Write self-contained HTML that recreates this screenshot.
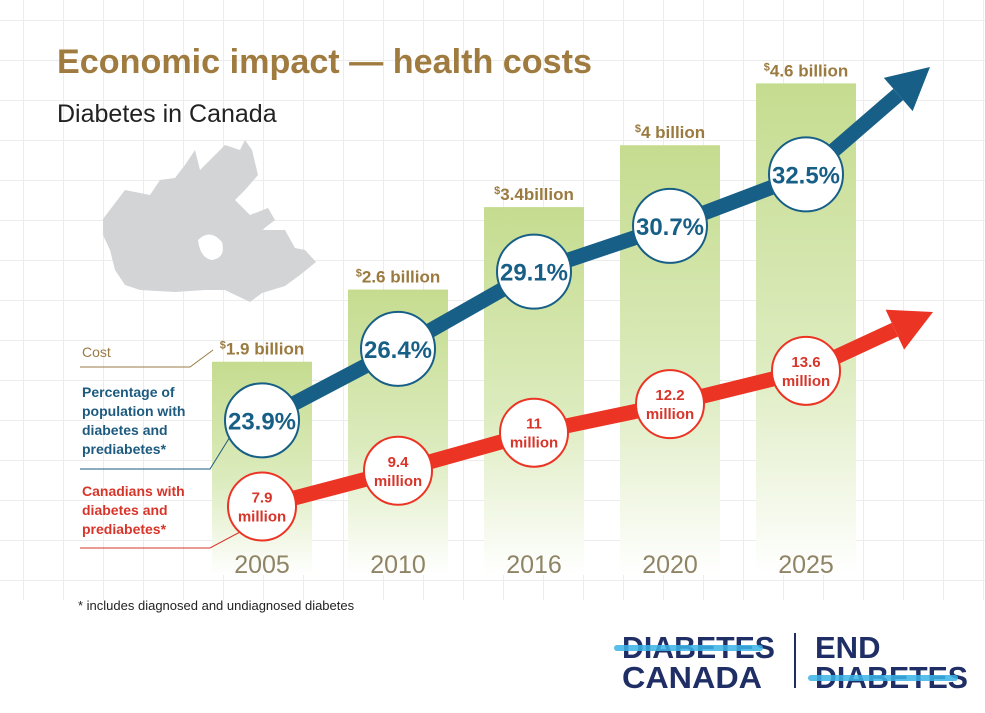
<!DOCTYPE html>
<html><head><meta charset="utf-8"><style>
html,body{margin:0;padding:0;background:#fff}
body{width:985px;height:713px;overflow:hidden;font-family:"Liberation Sans",sans-serif;position:relative}
.grid{position:absolute;left:0;top:0;width:985px;height:600px;
background-image:linear-gradient(to right,#ececec 1px,transparent 1px),linear-gradient(to bottom,#ececec 1px,transparent 1px);
background-size:40px 40px;background-position:23px 20px}
</style></head><body>
<div class="grid"></div>
<svg id="chart" width="985" height="713" style="position:absolute;left:0;top:0">
<defs>
<linearGradient id="barg" x1="0" y1="0" x2="0" y2="1">
<stop offset="0" stop-color="#c5dc8f"/><stop offset="0.55" stop-color="#dcebbd"/><stop offset="1" stop-color="#ffffff"/>
</linearGradient>
</defs>
<text x="57" y="73" font-size="34" font-weight="bold" fill="#a07b3f" textLength="535" lengthAdjust="spacingAndGlyphs">Economic impact — health costs</text>
<text x="57" y="122" font-size="25" fill="#222">Diabetes in Canada</text>
<path fill="#d3d4d6" d="M103,219 L125,190 L150,195 L160,180 L175,178 L185,165 L195,150 L200,170 L210,160 L225,145 L240,150 L245,140 L252,150 L258,175 L245,190 L235,200 L250,215 L268,208 L275,220 L262,230 L285,230 L295,248 L305,250 L316,262 L300,275 L285,286 L262,293 L250,302 L225,290 L205,290 L175,292 L140,290 L125,285 L115,270 L110,250 L103,235 Z"/>
<path fill="#ffffff" d="M198,240 Q210,228 222,242 Q226,258 212,260 Q200,258 198,240 Z"/>
<g id="bars"></g>
<g id="legend">
<text x="82" y="357" font-size="14" fill="#9a7a45">Cost</text>
<polyline points="80,367 190,367 213,350" fill="none" stroke="#9a7a45" stroke-width="1"/>
<text font-size="14" font-weight="bold" fill="#1d5a7f">
<tspan x="82" y="397">Percentage of</tspan><tspan x="82" y="416">population with</tspan><tspan x="82" y="435">diabetes and</tspan><tspan x="82" y="454">prediabetes*</tspan></text>
<polyline points="80,469 210,469 233,432" fill="none" stroke="#1d5a7f" stroke-width="1"/>
<text font-size="14" font-weight="bold" fill="#d8352a">
<tspan x="82" y="496">Canadians with</tspan><tspan x="82" y="515">diabetes and</tspan><tspan x="82" y="534">prediabetes*</tspan></text>
<polyline points="80,548 210,548 240,532" fill="none" stroke="#d8352a" stroke-width="1"/>
</g>
<g id="series"></g>
<text x="78" y="610" font-size="13" fill="#222">* includes diagnosed and undiagnosed diabetes</text>
<g>
<text x="622" y="658" font-size="31" font-weight="bold" fill="#1f2f66" textLength="153" lengthAdjust="spacingAndGlyphs">DIABETES</text>
<text x="622" y="688" font-size="31" font-weight="bold" fill="#1f2f66" textLength="140" lengthAdjust="spacingAndGlyphs">CANADA</text>
<line x1="617" y1="648" x2="760" y2="648" stroke="#3bb4e8" stroke-width="6" stroke-linecap="round" opacity="0.85"/>
<line x1="795" y1="633" x2="795" y2="688" stroke="#1f2f66" stroke-width="2"/>
<text x="815" y="658" font-size="31" font-weight="bold" fill="#1f2f66">END</text>
<text x="815" y="688" font-size="31" font-weight="bold" fill="#1f2f66" textLength="153" lengthAdjust="spacingAndGlyphs">DIABETES</text>
<line x1="811" y1="678" x2="955" y2="678" stroke="#3bb4e8" stroke-width="6" stroke-linecap="round" opacity="0.85"/>
</g>
</svg>
<script>
const years=["2005","2010","2016","2020","2025"];
const costs=[1.9,2.6,3.4,4,4.6];
const costLabels=["1.9 billion","2.6 billion","3.4billion","4 billion","4.6 billion"];
const percents=[23.9,26.4,29.1,30.7,32.5];
const people=[7.9,9.4,11,12.2,13.6];
const NS="http://www.w3.org/2000/svg";
function mk(t,a,p){const e=document.createElementNS(NS,t);for(const k in a)e.setAttribute(k,a[k]);p.appendChild(e);return e;}
const xC=i=>262+i*136;
const yCost=v=>217.4-(v-3.3)*103.1;
const yPct=v=>288.2-(v-28.52)*28.6;
const yPpl=v=>437-(v-10.82)*23.8;
const BASE=575;
const bars=document.getElementById('bars');
costs.forEach((c,i)=>{
 const y=yCost(c);
 const r=mk('rect',{x:xC(i)-50,y:y,width:100,height:BASE-y,fill:'url(#barg)'},bars);
 
 
 const t=mk('text',{x:xC(i),y:y-7,'text-anchor':'middle','font-size':17,'font-weight':'bold',fill:'#9a7a3f'},bars);
 t.innerHTML='<tspan font-size="11" dy="-6">$</tspan><tspan dy="6">'+costLabels[i]+'</tspan>';
 
 
 const yl=mk('text',{x:xC(i),y:573,'text-anchor':'middle','font-size':25,fill:'#8f8466'},bars);
 yl.textContent=years[i];
 
 
});
const g=document.getElementById('series');
function arrow(ys,color,endX,endY,name){
 const pts=ys.map((y,i)=>xC(i)+','+y).join(' ');
 const ln=mk('polyline',{points:pts,fill:'none',stroke:color,'stroke-width':15,'stroke-linejoin':'round'},g);
 
 
 const x0=xC(4),y0=ys[4];const dx=endX-x0,dy=endY-y0,L=Math.hypot(dx,dy),ux=dx/L,uy=dy/L;
 const bx=endX-ux*42,by=endY-uy*42;
 mk('line',{x1:x0,y1:y0,x2:bx,y2:by,stroke:color,'stroke-width':15},g);
 const hd=mk('polygon',{points:`${endX},${endY} ${bx-uy*22},${by+ux*22} ${bx+uy*22},${by-ux*22}`,fill:color},g);
 
 
}
arrow(percents.map(yPct),'#175f86',930,67,'percentage');
arrow(people.map(yPpl),'#ec3424',933,312,'canadians');
percents.forEach((p,i)=>{
 const c=mk('circle',{cx:xC(i),cy:yPct(p),r:37,fill:'#fff',stroke:'#175f86','stroke-width':2},g);
 
 
 const t=mk('text',{x:xC(i),y:yPct(p)+9,'text-anchor':'middle','font-size':24,'font-weight':'bold',fill:'#175f86'},g);
 t.textContent=p.toFixed(1)+'%';
 
 
});
people.forEach((p,i)=>{
 const y=yPpl(p);
 const c=mk('circle',{cx:xC(i),cy:y,r:34,fill:'#fff',stroke:'#ec3424','stroke-width':2},g);
 
 
 const t=mk('text',{x:xC(i),'text-anchor':'middle','font-size':15,'font-weight':'bold',fill:'#d8352a'},g);
 t.innerHTML='<tspan x="'+xC(i)+'" y="'+(y-4)+'">'+p+'</tspan><tspan x="'+xC(i)+'" y="'+(y+15)+'">million</tspan>';
 
 
});
</script>
</body></html>
